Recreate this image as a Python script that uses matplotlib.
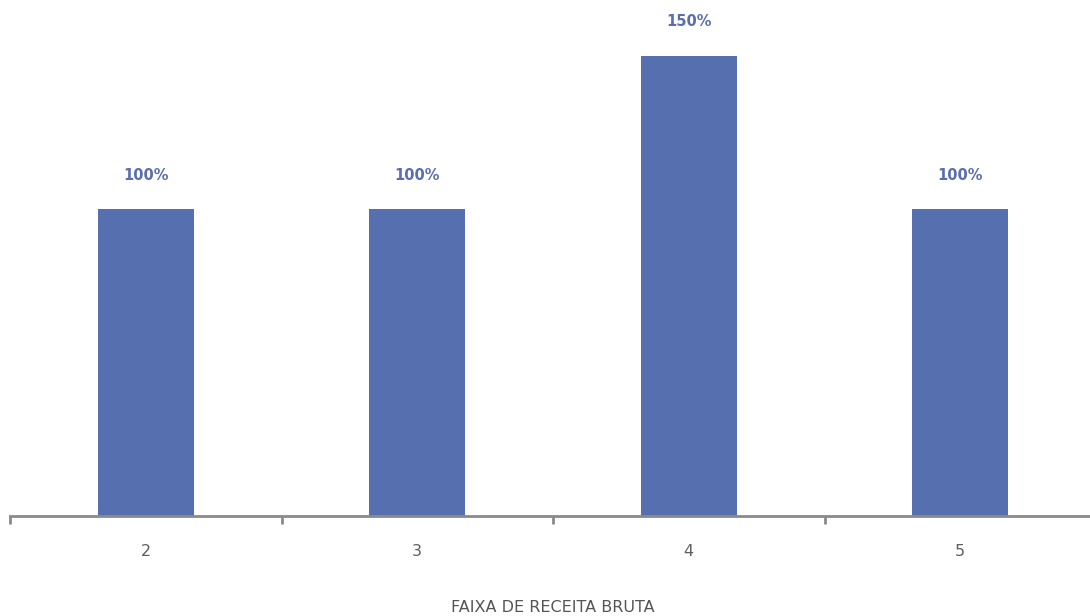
import matplotlib
matplotlib.use("Agg")
import matplotlib.pyplot as plt

categories = ["2", "3", "4", "5"]
values = [100, 100, 150, 100]
value_labels = ["100%", "100%", "150%", "100%"]
x_title = "FAIXA DE RECEITA BRUTA"

bar_color = "#566fae"
label_color = "#5a6db0"
axis_color = "#8a8a8a"
text_color = "#555555"

plt.rcParams["font.family"] = ["DejaVu Sans"]

fig = plt.figure(figsize=(10.9, 6.16), dpi=100)
ax = fig.add_axes([10 / 1090, 100 / 616, 1086 / 1090, 516 / 616])

pos = range(len(categories))
bars = ax.bar(pos, values, width=0.355, color=bar_color, zorder=2)

for b, lab in zip(bars, value_labels):
    ax.annotate(lab, (b.get_x() + b.get_width() / 2, b.get_height()),
                xytext=(0, 34), textcoords="offset pixels",
                ha="center", va="center", fontsize=10.5,
                fontweight="bold", color=label_color)

ax.set_xlim(-0.5, len(categories) - 0.5)
ax.set_ylim(0, 516 / 3.07)

for s in ["top", "right", "left"]:
    ax.spines[s].set_visible(False)
ax.spines["bottom"].set_color(axis_color)
ax.spines["bottom"].set_linewidth(2)
ax.set_yticks([])

# category boundary ticks
ax.set_xticks([i - 0.5 for i in range(len(categories) + 1)], minor=False)
ax.set_xticklabels([])
ax.tick_params(axis="x", which="major", length=6, width=2, color=axis_color)
ax.set_xticks(list(pos), minor=True)
ax.set_xticklabels(categories, minor=True)
ax.tick_params(axis="x", which="minor", length=0, pad=20,
               labelsize=11.5, labelcolor="#5e5e5e")

fig.text(553 / 1090, 1 - 607 / 616, x_title, ha="center", va="center",
         fontsize=11.5, color=text_color)

fig.savefig("out.png", dpi=100)
